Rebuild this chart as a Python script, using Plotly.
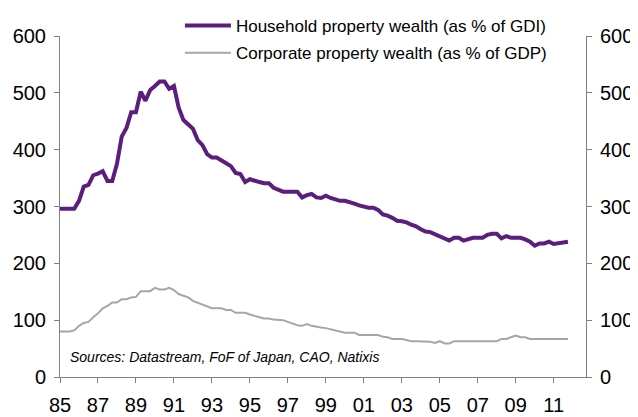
import plotly.graph_objects as go

# quarterly, 1985Q1 .. 2011Q4
quarters = [1985 + i / 4 for i in range(108)]

household = [
    296, 296, 296, 296,
    310, 335, 338, 355,
    358, 362, 345, 345,
    375, 423, 438, 466,
    466, 502, 486, 505,
    512, 520, 520, 507,
    512, 474, 452, 445,
    437, 417, 408, 392,
    386, 386, 380, 376,
    371, 359, 357, 343,
    348, 345, 343, 341,
    341, 333, 330, 326,
    326, 326, 326, 316,
    320, 322, 316, 315,
    319, 315, 312, 310,
    310, 308, 305, 302,
    300, 298, 298, 294,
    286, 284, 280, 275,
    274, 272, 268, 265,
    260, 256, 255, 251,
    247, 244, 240, 245,
    245, 240, 243, 245,
    245, 245, 250, 252,
    252, 244, 248, 245,
    245, 245, 242, 238,
    231, 235, 235, 238,
    234, 235, 237, 238,
]

corporate = [
    80, 80, 80, 82,
    90, 95, 97, 105,
    112, 121, 125, 131,
    131, 137, 137, 140,
    141, 151, 151, 151,
    157, 154, 154, 157,
    153, 146, 143, 140,
    134, 131, 128, 125,
    121, 121, 121, 118,
    118, 113, 113, 113,
    110, 107, 105, 103,
    103, 101, 100, 100,
    97, 94, 91, 90,
    93, 90, 88, 87,
    86, 84, 83, 80,
    78, 78, 78, 74,
    74, 74, 74, 74,
    71, 70, 67, 67,
    67, 65, 63, 63,
    63, 63, 62, 60,
    63, 59, 59, 63,
    63, 63, 63, 63,
    63, 63, 63, 63,
    63, 67, 67, 70,
    73, 70, 70, 67,
    67, 67, 67, 67,
    67, 67, 67, 67,
]

tick_years = list(range(1985, 2012, 2))
tick_text = ["%02d" % (y % 100) for y in tick_years]

fig = go.Figure()
fig.add_trace(go.Scatter(x=quarters, y=household, mode="lines",
                         name="Household property wealth (as % of GDI)",
                         line=dict(color="#5c1e7c", width=4), legendgroup="a"))
fig.add_trace(go.Scatter(x=quarters, y=corporate, mode="lines", yaxis="y2",
                         name="Corporate property wealth (as % of GDP)",
                         line=dict(color="#a6a6a6", width=2), legendgroup="b"))

axis_font = dict(family="Liberation Sans, Arial", size=20, color="black")
yaxis_common = dict(range=[0, 600], tickvals=[0, 100, 200, 300, 400, 500, 600],
                    showgrid=False, zeroline=False, showline=True, linecolor="#808080",
                    linewidth=1, ticks="outside", ticklen=5, tickcolor="#808080",
                    tickfont=axis_font, ticklabelstandoff=4)

# the page body adds an 8px margin, so the figure is 8px smaller than the window
fig.update_layout(
    width=630, height=409,
    margin=dict(l=52, r=52, t=28, b=40, autoexpand=False),
    plot_bgcolor="white", paper_bgcolor="white",
    font=dict(family="Liberation Sans, Arial", color="black"),
    xaxis=dict(range=[1985, 2012.7], tickvals=tick_years, ticktext=tick_text,
               showgrid=False, zeroline=False, showline=True, linecolor="#808080",
               linewidth=1, ticks="outside", ticklen=5, tickcolor="#808080",
               tickfont=axis_font, ticklabelstandoff=5),
    yaxis=yaxis_common,
    yaxis2=dict(yaxis_common, overlaying="y", side="right"),
    legend=dict(x=0.228, y=1.082, xanchor="left", yanchor="top", itemwidth=46,
                font=dict(size=17), bgcolor="rgba(0,0,0,0)", tracegroupgap=2),
    annotations=[dict(text="<i>Sources: Datastream, FoF of Japan, CAO, Natixis</i>",
                      xref="paper", yref="paper", x=0.016, y=0.06,
                      xanchor="left", yanchor="middle", showarrow=False,
                      font=dict(size=14, color="black"))],
)

fig.write_html("out.html")
